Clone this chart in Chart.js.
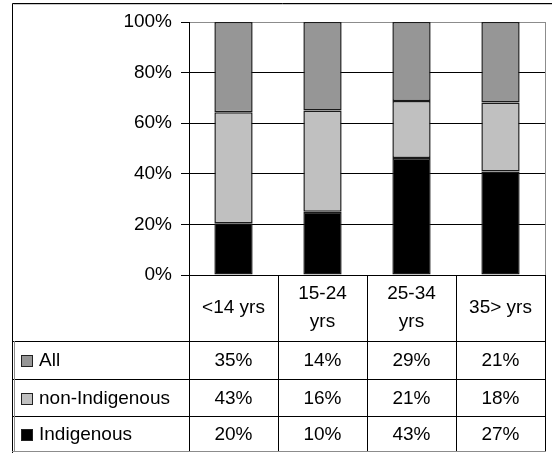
<!DOCTYPE html>
<html>
<head>
<meta charset="utf-8">
<script src="https://cdn.jsdelivr.net/npm/chart.js@4/dist/chart.umd.min.js"></script>
<style>
  html, body { margin: 0; padding: 0; background: #fff; }
  #wrap { position: relative; width: 552px; height: 453px; }
</style>
</head>
<body>
<div id="wrap"><canvas id="chart"></canvas></div>
<script>
// Age groups (each entry is the list of lines shown in the header cell)
const categories = [['<14 yrs'], ['15-24', 'yrs'], ['25-34', 'yrs'], ['35> yrs']];

// Series values per age group (percent)
const allValues = [35, 14, 29, 21];
const nonIndigenousValues = [43, 16, 21, 18];
const indigenousValues = [20, 10, 43, 27];

// Series names as listed in the data table
const seriesNames = ['All', 'non-Indigenous', 'Indigenous'];

// Value-axis tick labels
const yTicks = [0, 20, 40, 60, 80, 100];

const FONT = 'Liberation Sans, Arial, sans-serif';
const FONT_SIZE = 19;

const seriesColors = {
  'All': '#969696',
  'non-Indigenous': '#c0c0c0',
  'Indigenous': '#000000'
};

const seriesValues = {
  'All': allValues,
  'non-Indigenous': nonIndigenousValues,
  'Indigenous': indigenousValues
};

// 100% stacking: each series as a share of the age-group total
const totals = categories.map((_, i) => allValues[i] + nonIndigenousValues[i] + indigenousValues[i]);
const share = arr => arr.map((v, i) => v / totals[i] * 100);

// Bottom-to-top stacking order
const stackOrder = ['Indigenous', 'non-Indigenous', 'All'];

const datasets = stackOrder.map(name => ({
  label: name,
  data: share(seriesValues[name]),
  backgroundColor: seriesColors[name],
  borderColor: '#1a1a1a',
  borderWidth: 1.5,
  borderSkipped: false,
  categoryPercentage: 1,
  barPercentage: 0.43
}));

// Layout of the data table beneath the plot
const table = {
  frameLeft: 12,
  headerBottom: 341,
  rowBounds: [341, 379, 416, 451],
  swatchX: 21,
  swatchSize: 12,
  labelX: 39,
  lineGap: 28
};

const frameAndTable = {
  id: 'frameAndTable',
  beforeDraw(chart) {
    const ctx = chart.ctx;
    ctx.save();
    ctx.fillStyle = '#fff';
    ctx.fillRect(0, 0, chart.width, chart.height);
    // outer frame
    ctx.strokeStyle = '#000';
    ctx.lineWidth = 1;
    ctx.beginPath();
    ctx.moveTo(table.frameLeft + 0.5, chart.height);
    ctx.lineTo(table.frameLeft + 0.5, 3.5);
    ctx.lineTo(chart.width, 3.5);
    ctx.stroke();
    ctx.strokeStyle = '#c8c8c8';
    ctx.beginPath();
    ctx.moveTo(table.frameLeft + 1.5, 4.5);
    ctx.lineTo(chart.width, 4.5);
    ctx.stroke();
    ctx.restore();
  },
  afterDraw(chart) {
    const ctx = chart.ctx;
    const area = chart.chartArea;
    const xs = chart.scales.x;
    const n = categories.length;
    const colW = (area.right - area.left) / n;
    const left = table.frameLeft;
    const rb = table.rowBounds;
    const px = v => Math.round(v) + 0.5;

    ctx.save();
    // right edge of the plot area
    ctx.strokeStyle = '#8c8c8c';
    ctx.lineWidth = 1;
    ctx.beginPath();
    ctx.moveTo(px(area.right), Math.round(area.top));
    ctx.lineTo(px(area.right), Math.round(area.bottom));
    ctx.stroke();

    // table grid
    ctx.strokeStyle = '#000';
    ctx.beginPath();
    for (let i = 0; i <= n; i++) {
      const x = px(area.left + i * colW);
      ctx.moveTo(x, Math.round(area.bottom));
      ctx.lineTo(x, rb[rb.length - 1]);
    }
    for (let r = 0; r < rb.length - 1; r++) {
      ctx.moveTo(left, rb[r] + 0.5);
      ctx.lineTo(px(area.right) + 0.5, rb[r] + 0.5);
    }
    ctx.stroke();

    ctx.strokeStyle = '#8c8c8c';
    ctx.beginPath();
    ctx.moveTo(left, rb[rb.length - 1] + 0.5);
    ctx.lineTo(px(area.right) + 0.5, rb[rb.length - 1] + 0.5);
    ctx.moveTo(left + 2.5, rb[0]);
    ctx.lineTo(left + 2.5, rb[rb.length - 1]);
    ctx.stroke();

    // header cells
    ctx.fillStyle = '#000';
    ctx.font = FONT_SIZE + 'px ' + FONT;
    ctx.textAlign = 'center';
    ctx.textBaseline = 'middle';
    const headMid = (area.bottom + table.headerBottom) / 2;
    categories.forEach((lines, i) => {
      const cx = xs.getPixelForValue(i);
      const y0 = headMid - (lines.length - 1) * table.lineGap / 2;
      lines.forEach((t, k) => ctx.fillText(t, cx, y0 + k * table.lineGap));
    });

    // series rows
    seriesNames.forEach((name, r) => {
      const mid = (rb[r] + rb[r + 1]) / 2 + 1;
      const s = table.swatchSize;
      ctx.fillStyle = seriesColors[name];
      ctx.fillRect(table.swatchX, Math.round(mid - s / 2), s, s);
      ctx.strokeStyle = '#222';
      ctx.strokeRect(table.swatchX + 0.5, Math.round(mid - s / 2) + 0.5, s - 1, s - 1);
      ctx.fillStyle = '#000';
      ctx.textAlign = 'left';
      ctx.fillText(name, table.labelX, mid);
      ctx.textAlign = 'center';
      seriesValues[name].forEach((v, i) => {
        ctx.fillText(v + '%', xs.getPixelForValue(i), mid);
      });
    });
    ctx.restore();
  }
};

new Chart(document.getElementById('chart'), {
  type: 'bar',
  data: {
    labels: categories.map(l => l.join(' ')),
    datasets: datasets
  },
  options: {
    responsive: true,
    maintainAspectRatio: false,
    animation: false,
    devicePixelRatio: 1,
    layout: { padding: { left: 12, top: 22, right: 7, bottom: 178 } },
    plugins: { legend: { display: false }, tooltip: { enabled: false } },
    scales: {
      x: { display: false, stacked: true },
      y: {
        stacked: true,
        min: 0,
        max: 100,
        afterBuildTicks: scale => { scale.ticks = yTicks.map(v => ({ value: v })); },
        afterFit: scale => { scale.width = 177; },
        border: { display: true, color: '#000', width: 1 },
        grid: {
          color: c => (c.tick && c.tick.value === 100) ? '#8c8c8c' : '#000',
          tickColor: '#000',
          tickLength: 8,
          lineWidth: 1
        },
        ticks: {
          color: '#000',
          padding: 9,
          font: { family: FONT, size: FONT_SIZE },
          callback: v => v + '%'
        }
      }
    }
  },
  plugins: [frameAndTable]
});
</script>
</body>
</html>
